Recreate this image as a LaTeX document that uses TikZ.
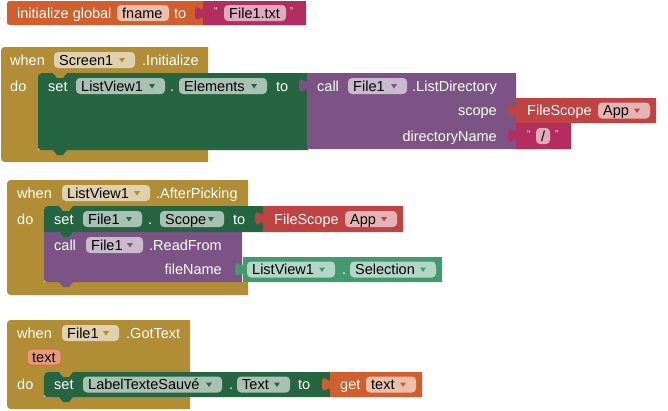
\documentclass[tikz,border=0pt]{standalone}
\usepackage{fontspec}
\setmainfont{Liberation Sans}
\definecolor{evgold}{HTML}{B18E35}
\definecolor{setgreen}{HTML}{266541}
\definecolor{callpurple}{HTML}{7C5385}
\definecolor{scopered}{HTML}{BF4343}
\definecolor{txtmagenta}{HTML}{B32D5E}
\definecolor{varorange}{HTML}{D05F2D}
\definecolor{getteal}{HTML}{439970}
\definecolor{paramfill}{HTML}{E89A78}
\definecolor{paramline}{HTML}{C8704A}
\newcommand{\aiFont}{\fontsize{14.5}{16}\selectfont}
\tikzset{
  wtxt/.style={anchor=base west, inner sep=0pt, text=white, font=\aiFont},
  wtxte/.style={anchor=base east, inner sep=0pt, text=white, font=\aiFont},
  btxt/.style={anchor=base west, inner sep=0pt, text=black, font=\aiFont},
  qtxt/.style={anchor=base west, inner sep=0pt, text=white, font=\fontsize{10}{10}\selectfont},
  fieldbg/.style={fill=white, fill opacity=0.6, rounded corners=4pt},
}
% event block (C shape): x0,y0,xr,y1,xi,y2,y3
\newcommand{\aiEvent}[7]{%
  \fill[evgold] (#1,#2+8) .. controls (#1,#2) .. (#1+8,#2) -- (#3,#2) -- (#3,#4)
    -- (#5+29,#4) -- (#5+25,#4+5) -- (#5+19,#4+5) -- (#5+15,#4)
    -- (#5+8,#4) .. controls (#5,#4) .. (#5,#4+8) -- (#5,#6) -- (#3,#6) -- (#3,#7)
    -- (#1+8,#7) .. controls (#1,#7) .. (#1,#7-8) -- cycle;}
% statement block: l,t,R,b,color,rtop,rbot
\newcommand{\aiStmt}[7]{%
  \fill[#5] (#1,#2+#6) .. controls (#1,#2) .. (#1+#6,#2) -- (#1+15,#2) -- (#1+19,#2+5)
    -- (#1+25,#2+5) -- (#1+29,#2) -- (#3,#2) -- (#3,#4) -- (#1+29,#4) -- (#1+25,#4+5)
    -- (#1+19,#4+5) -- (#1+15,#4) -- (#1+#7,#4) .. controls (#1,#4) .. (#1,#4-#7) -- cycle;}
% value block with output tab: l,t,R,b,color
\newcommand{\aiVal}[5]{%
  \fill[#5] (#1,#2) -- (#3,#2) -- (#3,#4) -- (#1,#4) -- (#1,#2+19)
    .. controls (#1,#2+10) and (#1-8,#2+27) .. (#1-8,#2+12)
    .. controls (#1-8,#2-2) and (#1,#2+15) .. (#1,#2+6) -- cycle;}
% dropdown field: name,left,right,cy,text,color
\newcommand{\aiDD}[6]{%
  \fill[fieldbg] (#2,#4-8) rectangle (#3,#4+8);
  \node[btxt] (#1) at (#2+5,#4+5) {#5};
  \fill[#6] (#3-16,#4-2) -- (#3-10,#4-2) -- (#3-13,#4+2.5) -- cycle;}
% plain field: name,left,right,cy,text
\newcommand{\aiFld}[5]{%
  \fill[fieldbg] (#2,#4-8) rectangle (#3,#4+8);
  \node[btxt] (#1) at (#2+5,#4+5) {#5};}
% white label: name,x,baseline,text
\newcommand{\aiTxt}[4]{\node[wtxt] (#1) at (#2,#3) {#4};}
\begin{document}
\begin{tikzpicture}[x=1pt,y=-1pt]
\fill[white] (0,0) rectangle (668,410);
\useasboundingbox (0,0) rectangle (668,410);

% ---------- Block 1: initialize global ----------
\fill[varorange] (7,7) .. controls (7,1) .. (13,1) -- (204,1) -- (204,25) -- (13,25) .. controls (7,25) .. (7,19) -- cycle;
\aiVal{203}{1}{306}{25}{txtmagenta}
\aiTxt{initg}{17}{18}{initialize global}
\aiFld{fname}{117}{169}{13}{fname}
\aiTxt{toa}{174}{18}{to}
\node[qtxt] (qaa) at (214,14) {“};
\aiFld{filetxt}{224}{286}{13}{File1.txt}
\node[qtxt] (qab) at (290,14) {”};

% ---------- Block 2: Screen1.Initialize ----------
\aiEvent{1}{47}{208}{73}{38}{150}{162}
\aiStmt{38}{73}{308}{150}{setgreen}{8}{6}
\aiVal{307}{73}{516}{149}{callpurple}
\aiVal{516}{98}{656}{123}{scopered}
\aiVal{516}{123}{571}{149}{txtmagenta}
\aiTxt{whenb}{10}{65}{when}
\aiDD{screen}{54}{135}{60}{Screen1}{evgold}
\aiTxt{initz}{142}{65}{.Initialize}
\aiTxt{dob}{10}{91}{do}
\aiTxt{setb}{48}{91}{set}
\aiDD{lvb}{76}{165}{86}{ListView1}{setgreen}
\aiTxt{dotb}{170}{91}{.}
\aiDD{elem}{179}{267}{86}{Elements}{setgreen}
\aiTxt{tob}{276}{91}{to}
\aiTxt{callb}{317}{91}{call}
\aiDD{fileb}{348}{407}{86}{File1}{callpurple}
\aiTxt{listdir}{412}{91}{.ListDirectory}
\node[wtxte] (scope) at (497,115.5) {scope};
\node[wtxte] (dirname) at (497,141) {directoryName};
\aiTxt{fsb}{527}{115.5}{FileScope}
\aiDD{appb}{598}{650}{110.5}{App}{scopered}
\node[qtxt] (qba) at (527,137) {“};
\aiFld{slash}{536}{550}{136}{/}
\node[qtxt] (qbb) at (555,137) {”};

% ---------- Block 3: ListView1.AfterPicking ----------
\aiEvent{7}{180}{248}{206}{44}{282}{295}
\aiStmt{44}{232}{242}{282}{callpurple}{0}{6}
\aiStmt{44}{206}{264}{232}{setgreen}{8}{0}
\aiVal{263}{206}{403}{232}{scopered}
\aiVal{243}{257}{442}{282}{getteal}
\aiTxt{whenc}{17}{198}{when}
\aiDD{lvc}{62}{150}{193}{ListView1}{evgold}
\aiTxt{afterp}{156}{198}{.AfterPicking}
\aiTxt{doc}{17}{224}{do}
\aiTxt{setc}{54}{224}{set}
\aiDD{filec}{83}{142}{219}{File1}{setgreen}
\aiTxt{dotc}{148}{224}{.}
\aiDD{scopec}{160}{224}{219}{Scope}{setgreen}
\aiTxt{toc}{233}{224}{to}
\aiTxt{fsc}{274}{224}{FileScope}
\aiDD{appc}{345}{397}{219}{App}{scopered}
\aiTxt{callc}{54}{250}{call}
\aiDD{filecc}{86}{143}{245}{File1}{callpurple}
\aiTxt{readf}{149}{250}{.ReadFrom}
\node[wtxte] (fname2) at (222,274.5) {fileName};
\aiDD{lvsel}{247}{335}{269.5}{ListView1}{getteal}
\aiTxt{dotsel}{342}{274.5}{.}
\aiDD{selec}{350}{436}{269.5}{Selection}{getteal}

% ---------- Block 4: File1.GotText ----------
\aiEvent{7}{320}{190}{372}{44}{397}{409}
\aiStmt{44}{372}{331}{397}{setgreen}{8}{6}
\aiVal{330}{372}{422}{397}{varorange}
\aiTxt{whend}{17}{338}{when}
\aiDD{filed}{62}{119}{333}{File1}{evgold}
\aiTxt{gott}{126}{338}{.GotText}
\fill[fill=paramfill, draw=paramline, line width=1pt, rounded corners=4pt] (27,349) rectangle (61,365);
\node[btxt] (param) at (32,362) {text};
\aiTxt{dod}{17}{389}{do}
\aiTxt{setd}{54}{389}{set}
\aiDD{label}{83}{222}{384.5}{LabelTexteSauvé}{setgreen}
\aiTxt{dotd}{229}{389.5}{.}
\aiDD{textd}{237}{290}{384.5}{Text}{setgreen}
\aiTxt{tod}{298}{389.5}{to}
\aiTxt{getd}{340}{389.5}{get}
\aiDD{gettext}{366}{416}{384.5}{text}{varorange}
\end{tikzpicture}
\end{document}
